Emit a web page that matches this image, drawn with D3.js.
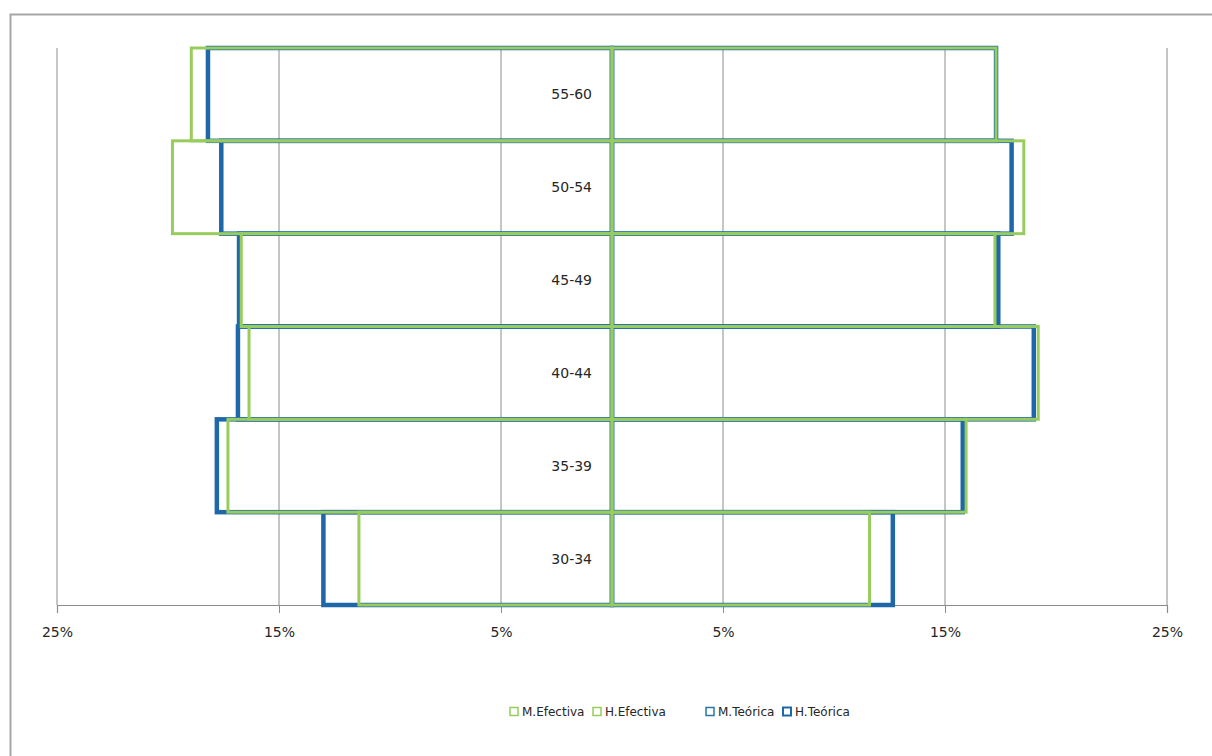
<!DOCTYPE html>
<html>
<head>
<meta charset="utf-8">
<script src="https://cdn.jsdelivr.net/npm/d3@7"></script>
<style>
  html, body { margin: 0; padding: 0; background: #fff; }
  svg { display: block; }
  text { font-family: "DejaVu Sans", Verdana, sans-serif; fill: #262626; }
</style>
</head>
<body>
<svg id="chart" width="1212" height="756"></svg>
<script>
// Age groups, top to bottom
const categories = ["55-60", "50-54", "45-49", "40-44", "35-39", "30-34"];

// Share of each age group (%), men drawn to the left, women to the right
const hEfectiva = [18.95, 19.8, 16.7, 16.35, 17.3, 11.4];
const hTeorica  = [18.2, 17.6, 16.8, 16.85, 17.8, 13.0];
const mEfectiva = [17.3, 18.55, 17.25, 19.2, 15.95, 11.6];
const mTeorica  = [17.3, 18.0, 17.4, 19.0, 15.8, 12.65];

const tickValues = [-25, -15, -5, 5, 15, 25];
const seriesNames = ["M.Efectiva", "H.Efectiva", "M.Teórica", "H.Teórica"];

const green = "#98CD5E";
const blue = "#1E68AA";

const svg = d3.select("#chart");

// outer chart frame
svg.append("rect")
  .attr("x", 10.5).attr("y", 14.5)
  .attr("width", 1230).attr("height", 760)
  .attr("fill", "none").attr("stroke", "#a6a6a6").attr("stroke-width", 2);

const plot = { left: 57, right: 1167, top: 48, bottom: 605 };

const x = d3.scaleLinear().domain([-25, 25]).range([plot.left, plot.right]);
const y = d3.scaleBand().domain(categories).range([plot.top, plot.bottom]).padding(0);

// vertical gridlines
svg.append("g")
  .selectAll("line")
  .data(tickValues)
  .join("line")
  .attr("x1", d => x(d)).attr("x2", d => x(d))
  .attr("y1", plot.top).attr("y2", plot.bottom)
  .attr("stroke", "#8c8c8c").attr("stroke-width", 1);

// x axis with absolute percentage labels
const xAxis = d3.axisBottom(x)
  .tickValues(tickValues)
  .tickSize(8)
  .tickPadding(14)
  .tickFormat(d => Math.abs(d) + "%");

const gx = svg.append("g")
  .attr("transform", `translate(0,${plot.bottom})`)
  .call(xAxis);
gx.select(".domain").attr("stroke", "#8c8c8c").attr("stroke-width", 1.2);
gx.selectAll(".tick line").attr("stroke", "#8c8c8c");
gx.selectAll(".tick text")
  .style("font-family", "'DejaVu Sans', Verdana, sans-serif")
  .style("font-size", "14px")
  .attr("fill", "#262626");

// outlined bars: theoretical first (wider stroke), effective on top
function drawBars(values, sign, color, width) {
  svg.append("g")
    .selectAll("rect")
    .data(values.map((v, i) => ({ cat: categories[i], v: v * sign })))
    .join("rect")
    .attr("x", d => Math.min(x(0), x(d.v)))
    .attr("width", d => Math.abs(x(d.v) - x(0)))
    .attr("y", d => y(d.cat))
    .attr("height", y.bandwidth())
    .attr("fill", "none")
    .attr("stroke", color)
    .attr("stroke-width", width);
}

drawBars(hTeorica, -1, blue, 4.5);
drawBars(mTeorica, 1, blue, 4.5);
drawBars(hEfectiva, -1, green, 3);
drawBars(mEfectiva, 1, green, 3);

// age group labels, just left of the centre line
svg.append("g")
  .selectAll("text")
  .data(categories)
  .join("text")
  .attr("x", x(0) - 20)
  .attr("y", d => y(d) + y.bandwidth() / 2)
  .attr("text-anchor", "end")
  .attr("dominant-baseline", "central")
  .style("font-size", "14px")
  .text(d => d);

// legend
const legendColors = [green, green, "#2A76A8", blue];
const legendWidths = [1.5, 1.5, 1.5, 2];
const legendX = [510, 593, 706, 783];
const legend = svg.append("g")
  .selectAll("g")
  .data(seriesNames)
  .join("g")
  .attr("transform", (d, i) => `translate(${legendX[i]},712)`);
legend.append("rect")
  .attr("x", 0).attr("y", -4.5)
  .attr("width", 8).attr("height", 8)
  .attr("fill", "#fff")
  .attr("stroke", (d, i) => legendColors[i])
  .attr("stroke-width", (d, i) => legendWidths[i]);
legend.append("text")
  .attr("x", 12).attr("y", 0)
  .attr("dominant-baseline", "central")
  .style("font-size", "12px")
  .text(d => d);
</script>
</body>
</html>
